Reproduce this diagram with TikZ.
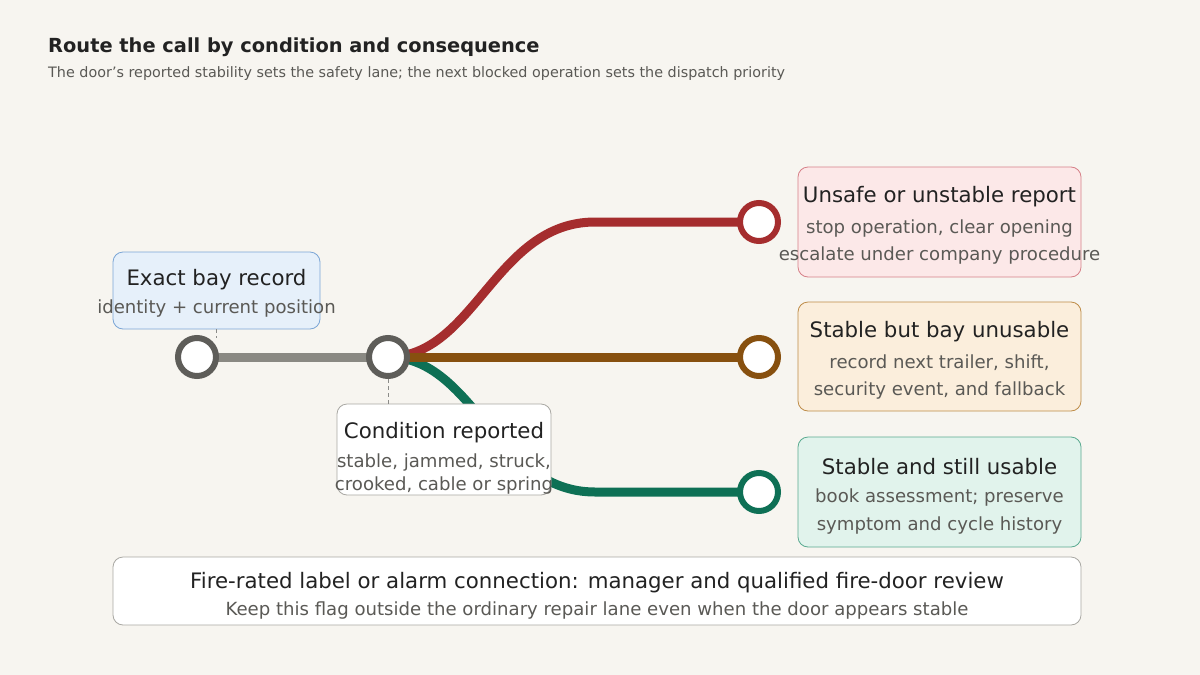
\documentclass[tikz,border=0pt]{standalone}
\usepackage{fontspec}
\setmainfont{DejaVu Sans}
\usepackage{tikz}
\usetikzlibrary{positioning,calc}

\definecolor{paper}{HTML}{F7F5F0}
\definecolor{ink}{HTML}{222222}
\definecolor{soft}{HTML}{5A5955}
\definecolor{trunk}{HTML}{8A8983}
\definecolor{stopring}{HTML}{5E5D59}
\definecolor{redline}{HTML}{A52D2E}
\definecolor{brownline}{HTML}{87500F}
\definecolor{greenline}{HTML}{0E7055}
\definecolor{bayfill}{HTML}{E6F0FA}
\definecolor{bayedge}{HTML}{7BA6D6}
\definecolor{redfill}{HTML}{FCE8E8}
\definecolor{rededge}{HTML}{D68088}
\definecolor{brownfill}{HTML}{FBEEDC}
\definecolor{brownedge}{HTML}{BE8C48}
\definecolor{greenfill}{HTML}{E1F3EC}
\definecolor{greenedge}{HTML}{5AAA90}
\definecolor{plainedge}{HTML}{A9A8A3}

\tikzset{
    card/.style={draw, rounded corners=10pt, line width=0.8pt, inner sep=0pt},
    stop/.style={circle, draw, fill=white, line width=6pt, minimum size=38pt, inner sep=0pt},
    head/.style={font=\fontsize{21.3}{25}\selectfont, text=ink},
    sub/.style={font=\fontsize{18.1}{27.5}\selectfont, text=soft, align=center},
    lane/.style={line width=9pt},
    tick/.style={draw=soft!70, line width=0.8pt, dash pattern=on 4pt off 3pt}
}

\begin{document}
\begin{tikzpicture}[x=1pt,y=-1pt]
                    \fill[paper] (0,0) rectangle (1200,675);
                    \useasboundingbox (0,0) rectangle (1200,675);
                    % heading
                    \node[anchor=base west, inner sep=0pt, font=\bfseries\fontsize{19.4}{24}\selectfont, text=ink] (title) at (48,52) {Route the call by condition and consequence};
                    \node[anchor=base west, inner sep=0pt, font=\fontsize{14.35}{16}\selectfont, text=soft] (subtitle) at (48,77) {The door’s reported stability sets the safety lane; the next blocked operation sets the dispatch priority};
                    % lanes
                    \coordinate (split) at (388,357);
                    \coordinate (endred) at (759,222);
                    \coordinate (endbrown) at (759,357);
                    \coordinate (endgreen) at (759,492);
                    \draw[lane, redline] (split) .. controls (475,357) and (495,222) .. (595,222) -- (endred);
                    \draw[lane, greenline] (split) .. controls (475,357) and (495,492) .. (595,492) -- (endgreen);
                    \draw[lane, brownline] (split) -- (endbrown);
                    \draw[lane, trunk] (197,357) -- (split);
                    % stops
                    \node[stop, draw=stopring] (bay) at (197,357) {};
                    \node[stop, draw=stopring] (cond) at (split) {};
                    \node[stop, draw=redline] (unsafe) at (endred) {};
                    \node[stop, draw=brownline] (unusable) at (endbrown) {};
                    \node[stop, draw=greenline] (usable) at (endgreen) {};
                    % left cards
                    \node[card, draw=bayedge, fill=bayfill, minimum width=207pt, minimum height=77pt] (baybox) at (216.5,290.5) {};
                    \node[head] at (216.5,280) {Exact bay record};
                    \node[sub] at (216.5,309) {identity + current position};
                    \draw[tick] (baybox.south) -- ++(0,9);
                    \node[card, draw=plainedge, fill=white, minimum width=214pt, minimum height=91pt] (condbox) at (444,449.5) {};
                    \node[head] at (444,433) {Condition reported};
                    \node[sub, font=\fontsize{18.1}{23}\selectfont] at (444,473.5) {stable, jammed, struck,\\crooked, cable or spring};
                    \draw[tick] (cond.south) -- (condbox.north -| cond);
                    % right cards
                    \node[card, draw=rededge, fill=redfill, minimum width=283pt, minimum height=110pt] (unsafebox) at (939.5,222) {};
                    \node[head] at (939.5,197) {Unsafe or unstable report};
                    \node[sub] at (939.5,242) {stop operation, clear opening\\escalate under company procedure};
                    \node[card, draw=brownedge, fill=brownfill, minimum width=283pt, minimum height=109pt] (unusablebox) at (939.5,356.5) {};
                    \node[head] at (939.5,332) {Stable but bay unusable};
                    \node[sub] at (939.5,377) {record next trailer, shift,\\security event, and fallback};
                    \node[card, draw=greenedge, fill=greenfill, minimum width=283pt, minimum height=110pt] (usablebox) at (939.5,492) {};
                    \node[head] at (939.5,467) {Stable and still usable};
                    \node[sub] at (939.5,511.5) {book assessment; preserve\\symptom and cycle history};
                    % fire flag
                    \node[card, draw=plainedge, fill=white, minimum width=968pt, minimum height=68pt] (firebox) at (597,591) {};
                    \node[head] at (597,583) {Fire-rated label or alarm connection: manager and qualified fire-door review};
                    \node[sub] at (597,610) {Keep this flag outside the ordinary repair lane even when the door appears stable};
                \end{tikzpicture}
\end{document}
